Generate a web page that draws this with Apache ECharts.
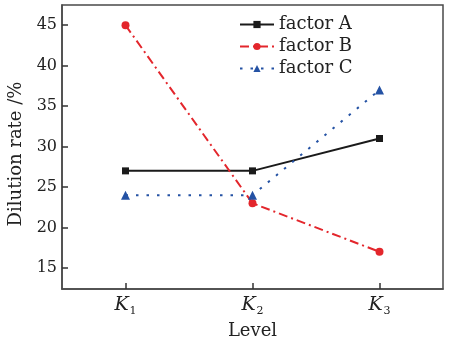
<!DOCTYPE html>
<html>
<head>
<meta charset="utf-8">
<script src="https://cdn.jsdelivr.net/npm/echarts@6/dist/echarts.min.js"></script>
<style>
  html, body { margin: 0; padding: 0; background: #fff; }
  #chart { width: 449px; height: 338px; }
</style>
</head>
<body>
<div id="chart"></div>
<script>
  // data
  const levels = ["1", "2", "3"];
  const factorA = [27, 27, 31];
  const factorB = [45, 23, 17];
  const factorC = [24, 24, 37];
  const yTicks = [15, 20, 25, 30, 35, 40, 45];

  const font = "DejaVu Serif";
  const axisColor = "#4a4a4a";
  const textColor = "#222";

  const chart = echarts.init(document.getElementById("chart"));

  const option = {
    animation: false,
    textStyle: { fontFamily: font },
    grid: {
      left: 62, right: 6, top: 5, bottom: 49,
      outerBoundsMode: "none",
      show: true, borderColor: axisColor, borderWidth: 1.5
    },
    legend: {
      orient: "vertical",
      left: 234, top: 10,
      itemWidth: 34, itemHeight: 9, itemGap: 3,
      textStyle: { fontFamily: font, fontSize: 18, lineHeight: 19, color: textColor },
      data: ["factor A", "factor B", "factor C"]
    },
    xAxis: {
      type: "category",
      data: levels,
      boundaryGap: true,
      z: 5,
      name: "Level",
      nameLocation: "middle",
      nameGap: 29,
      nameTextStyle: { fontFamily: font, fontSize: 18, color: textColor },
      axisLine: { lineStyle: { color: axisColor, width: 1.5 } },
      axisTick: { show: true, inside: true, alignWithLabel: true, length: 6, lineStyle: { color: "#333", width: 1.5 } },
      axisLabel: {
        margin: 5,
        formatter: v => "{k|K}{s|" + v + "}",
        rich: {
          k: { fontFamily: font, fontStyle: "italic", fontSize: 19, color: textColor },
          s: { fontFamily: font, fontSize: 11, color: textColor, padding: [12, 0, 0, 1] }
        }
      },
      splitLine: { show: false }
    },
    yAxis: {
      type: "value",
      min: 12.4,
      max: 47.5,
      z: 5,
      name: "Dilution rate /%",
      nameLocation: "middle",
      nameGap: 32,
      nameTextStyle: { fontFamily: font, fontSize: 18, color: textColor, padding: [0, 14, 0, 0] },
      axisLine: { show: true, lineStyle: { color: axisColor, width: 1.5 } },
      axisTick: { show: true, inside: true, length: 6, customValues: yTicks, lineStyle: { color: "#333", width: 1.5 } },
      axisLabel: { fontFamily: font, fontSize: 16, color: textColor, margin: 5, customValues: yTicks },
      splitLine: { show: false }
    },
    series: [
      {
        name: "factor A", type: "line", data: factorA,
        symbol: "rect", symbolSize: 7,
        itemStyle: { color: "#1a1a1a" },
        lineStyle: { color: "#1a1a1a", width: 2, type: "solid" }
      },
      {
        name: "factor B", type: "line", data: factorB,
        symbol: "circle", symbolSize: 8,
        itemStyle: { color: "#e3262c" },
        lineStyle: { color: "#e3262c", width: 2, type: [9, 4, 2, 4] }
      },
      {
        name: "factor C", type: "line", data: factorC,
        symbol: "triangle", symbolSize: 9,
        itemStyle: { color: "#2452a4" },
        lineStyle: { color: "#2452a4", width: 2, type: [2.5, 8] }
      }
    ]
  };

  chart.setOption(option);
</script>
</body>
</html>
